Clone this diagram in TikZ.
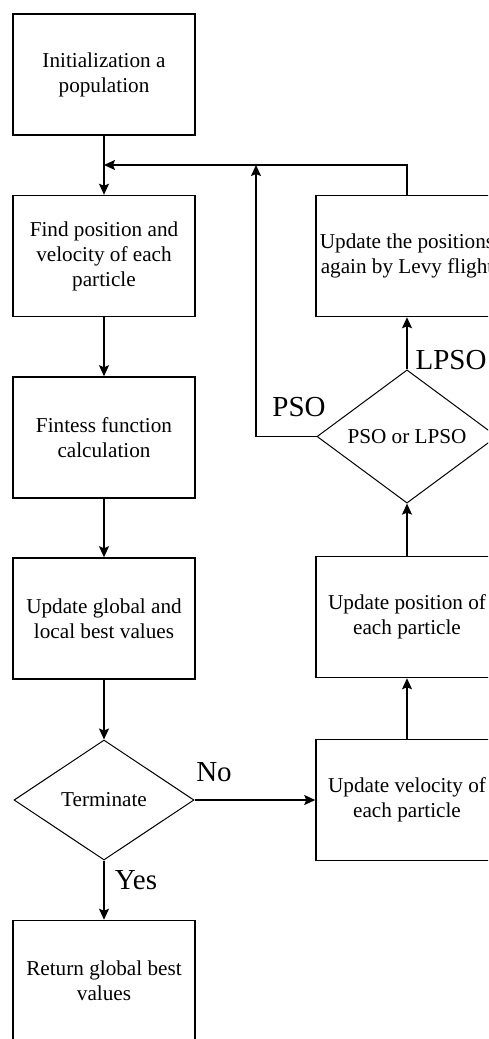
\documentclass[tikz,border=0pt]{standalone}
\usepackage{fontspec}
\setmainfont{Liberation Serif}
\usetikzlibrary{arrows, arrows.meta}
\usetikzlibrary{shapes.geometric}

\begin{document}
\begin{tikzpicture}[x=0.5pt, y=-0.5pt,
    box/.style={rectangle, draw, line width=0.75pt, minimum width=91pt, minimum height=60.5pt, inner sep=0pt, align=center, font=\fontsize{10.6}{12.5}\selectfont},
    decision/.style={diamond, draw, line width=0.5pt, minimum width=90pt, minimum height=60pt, inner sep=0pt, font=\fontsize{10.6}{12.5}\selectfont},
    lbl/.style={inner sep=0pt, font=\fontsize{14.5}{16}\selectfont},
    flow/.style={line width=0.7pt, -{Stealth[length=5.5pt, width=5pt, inset=1pt]}}]
      \clip (0,0) rectangle (488,1039);
      \fill[white] (0,0) rectangle (488,1039);

      % left column
      \node[box] (init) at (104,74.5) {Initialization a\\population};
      \node[box] (find) at (104,256) {Find position and\\velocity of each\\particle};
      \node[box] (fit) at (104,437.5) {Fintess function\\calculation};
      \node[box] (upd) at (104,618.5) {Update global and\\local best values};
      \node[decision] (term) at (104,800) {Terminate};
      \node[box] (ret) at (104,981) {Return global best\\values};

      % right column
      \node[box] (vel) at (407,800) {Update velocity of\\each particle};
      \node[box] (pos) at (407,617) {Update position of\\each particle};
      \node[decision] (choice) at (407,436.5) {PSO or LPSO};
      \node[box] (levy) at (407,256) {Update the positions\\again by Levy flight};

      \node[lbl] (no) at (214,772) {No};
      \node[lbl] (yes) at (136,880) {Yes};
      \node[lbl] (pso) at (299,407) {PSO};
      \node[lbl] (lpso) at (451,360) {LPSO};

      \coordinate (join) at (104,165);
      \coordinate (psotop) at (256,165);

      \draw[flow] (init) -- (find);
      \draw[flow] (find) -- (fit);
      \draw[flow] (fit) -- (upd);
      \draw[flow] (upd) -- (term);
      \draw[flow] (term) -- (ret);
      \draw[flow] (term) -- (vel);
      \draw[flow] (vel) -- (pos);
      \draw[flow] (pos) -- (choice);
      \draw[flow] (choice) -- (levy);
      \draw[flow] (levy.north) |- (join);
      \draw[flow] (choice.west) -| (psotop);
    \end{tikzpicture}
\end{document}
